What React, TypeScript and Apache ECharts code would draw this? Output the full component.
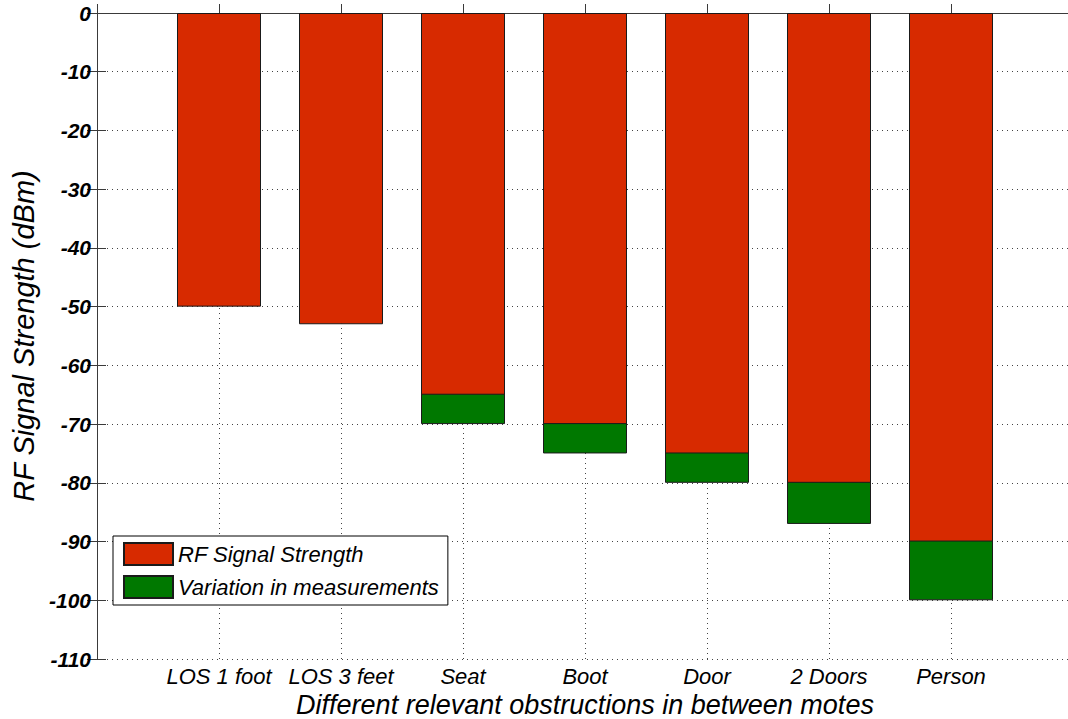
import React, { useEffect, useRef } from "react";
import * as echarts from "echarts";

const categories = ["LOS 1 foot", "LOS 3 feet", "Seat", "Boot", "Door", "2 Doors", "Person"];
// RF signal strength (top of the red bar = 0, bottom = value)
const rfSignal = [-50, -53, -65, -70, -75, -80, -90];
// lowest measured value (bottom of the green variation band); null = no variation shown
const variationBottom: (number | null)[] = [null, null, -70, -75, -80, -87, -100];
const seriesNames = ["RF Signal Strength", "Variation in measurements"];

const FONT = "'Liberation Sans', Arial, Helvetica, sans-serif";
const RED = "#D72A00";
const GREEN = "#007800";
const FRAME = "#3a3a3a";

export default function App() {
  const ref = useRef<HTMLDivElement>(null);
  useEffect(() => {
    if (!ref.current) return;
    const chart = echarts.init(ref.current, null, { renderer: "svg" });
    const redData = categories.map((_, i) => [i + 1, rfSignal[i]]);
    const greenData = categories.map((_, i) => [i + 1, variationBottom[i] === null ? "-" : variationBottom[i]]);
    chart.setOption({
      animation: false,
      backgroundColor: "#ffffff",
      grid: { left: 97, top: 13, width: 976, height: 646, containLabel: false, outerBoundsMode: "none" },
      legend: {
        orient: "vertical",
        left: 113,
        top: 536,
        padding: [6, 9, 6, 10],
        itemGap: 9,
        itemWidth: 49,
        itemHeight: 22,
        icon: "rect",
        borderColor: "#000",
        borderWidth: 1,
        backgroundColor: "#fff",
        textStyle: { fontFamily: FONT, fontSize: 22, fontStyle: "italic", color: "#000" },
        data: seriesNames,
      },
      xAxis: [
        {
          type: "value",
          min: 0,
          max: 8,
          interval: 1,
          position: "bottom",
          name: "Different relevant obstructions in between motes",
          nameLocation: "middle",
          nameGap: 27,
          nameTextStyle: { fontFamily: FONT, fontSize: 27, fontStyle: "italic", color: "#000" },
          axisLine: { show: true, lineStyle: { color: FRAME, width: 1 } },
          axisTick: { show: true, inside: true, length: 9, lineStyle: { color: FRAME } },
          axisLabel: {
            margin: 6,
            fontFamily: FONT,
            fontSize: 22,
            fontStyle: "italic",
            color: "#000",
            showMinLabel: true,
            showMaxLabel: true,
            formatter: (v: number) => categories[v - 1] ?? "",
          },
          splitLine: { show: true, lineStyle: { color: "#444", type: [1, 4], width: 1 } },
        },
        {
          type: "value",
          min: 0,
          max: 8,
          interval: 1,
          position: "top",
          axisLine: { show: true, lineStyle: { color: FRAME, width: 1 } },
          axisTick: { show: true, inside: true, length: 9, lineStyle: { color: FRAME } },
          axisLabel: { show: false },
          splitLine: { show: false },
        },
      ],
      yAxis: [
        {
          type: "value",
          min: -110,
          max: 0,
          interval: 10,
          position: "left",
          name: "RF Signal Strength (dBm)",
          nameLocation: "middle",
          nameGap: 57,
          nameTextStyle: { fontFamily: FONT, fontSize: 29, fontStyle: "italic", color: "#000" },
          axisLine: { show: true, lineStyle: { color: FRAME, width: 1 } },
          axisTick: { show: true, inside: true, length: 9, lineStyle: { color: FRAME } },
          axisLabel: {
            margin: 6,
            fontFamily: FONT,
            fontSize: 21,
            fontStyle: "italic",
            fontWeight: "bold",
            color: "#000",
          },
          splitLine: { show: true, lineStyle: { color: "#444", type: [1, 4], width: 1 } },
        },
        {
          type: "value",
          min: -110,
          max: 0,
          interval: 10,
          position: "right",
          axisLine: { show: true, lineStyle: { color: FRAME, width: 1 } },
          axisTick: { show: true, inside: true, length: 10, lineStyle: { color: FRAME } },
          axisLabel: { show: false },
          splitLine: { show: false },
        },
      ],
      series: [
        {
          name: seriesNames[1],
          type: "bar",
          barWidth: 84,
          barGap: "-100%",
          xAxisIndex: 0,
          yAxisIndex: 0,
          z: 2,
          itemStyle: { color: GREEN, borderColor: "#1a1a1a", borderWidth: 1 },
          data: greenData,
        },
        {
          name: seriesNames[0],
          type: "bar",
          barWidth: 84,
          barGap: "-100%",
          xAxisIndex: 0,
          yAxisIndex: 0,
          z: 3,
          itemStyle: { color: RED, borderColor: "#1a1a1a", borderWidth: 1 },
          data: redData,
        },
      ],
    });
    return () => chart.dispose();
  }, []);
  return (
    <div
      ref={ref}
      style={{ position: "fixed", left: 0, top: 0, width: 1068, height: 719, background: "#fff" }}
    />
  );
}
